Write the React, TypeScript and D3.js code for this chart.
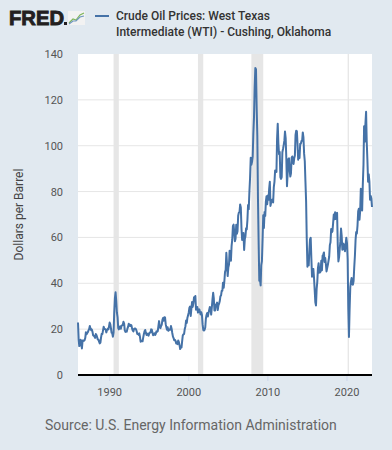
import * as d3 from "d3";

// Monthly WTI spot price averages (dollars per barrel), starting Jan 1986
const wti1980s = [
  22.93, 15.46, 12.61, 12.84, 15.38, 13.43, 11.59, 15.1, 14.87, 14.9, 15.22, 16.11,
  18.65, 17.75, 18.3, 18.68, 19.44, 20.07, 21.34, 20.31, 19.53, 19.86, 18.85, 17.28,
  17.13, 16.8, 16.2, 17.86, 17.42, 16.53, 15.5, 15.52, 14.54, 13.77, 14.14, 16.38,
  18.02, 17.94, 19.48, 21.07, 20.12, 20.05, 19.78, 18.58, 19.59, 20.1, 19.86, 21.1,
];
const wti1990s = [
  22.86, 22.11, 20.39, 18.43, 18.2, 16.7, 18.45, 27.31, 33.51, 36.04, 32.33, 27.28,
  25.23, 20.48, 19.9, 20.83, 21.23, 20.19, 21.4, 21.69, 21.89, 23.23, 22.46, 19.5,
  18.79, 19.01, 18.92, 20.23, 20.98, 22.39, 21.78, 21.34, 21.88, 21.69, 20.34, 19.41,
  19.03, 20.09, 20.32, 20.25, 19.95, 19.09, 17.89, 18.01, 17.5, 18.15, 16.61, 14.52,
  15.03, 14.78, 14.68, 16.42, 17.89, 19.06, 19.66, 18.38, 17.45, 17.72, 18.07, 17.16,
  18.04, 18.57, 18.54, 19.9, 19.74, 18.45, 17.33, 18.02, 18.23, 17.43, 17.99, 19.03,
  18.85, 19.09, 21.33, 23.5, 21.17, 20.42, 21.3, 21.9, 23.97, 24.88, 23.71, 25.23,
  25.13, 22.18, 20.97, 19.7, 20.82, 19.26, 19.66, 19.95, 19.8, 21.33, 20.19, 18.33,
  16.72, 16.06, 15.12, 15.35, 14.91, 13.72, 14.17, 13.47, 15.03, 14.46, 13.0, 11.35,
  12.52, 12.01, 14.68, 17.31, 17.72, 17.92, 20.1, 21.28, 23.8, 22.69, 25.0, 26.1,
];
const wti2000s = [
  27.26, 29.37, 29.84, 25.72, 28.79, 31.82, 29.7, 31.26, 33.88, 33.11, 34.42, 28.44,
  29.59, 29.61, 27.24, 27.49, 28.63, 27.6, 26.43, 27.37, 26.2, 22.17, 19.64, 19.39,
  19.72, 20.72, 24.53, 26.18, 27.04, 25.52, 26.97, 28.39, 29.66, 28.84, 26.35, 29.46,
  32.95, 35.83, 33.51, 28.17, 28.11, 30.66, 30.76, 31.57, 28.31, 30.34, 31.11, 32.13,
  34.31, 34.69, 36.74, 36.75, 40.28, 38.03, 40.78, 44.9, 45.94, 53.28, 48.47, 43.15,
  46.84, 48.15, 54.19, 52.98, 49.83, 56.35, 59.0, 64.99, 65.59, 62.26, 58.32, 59.41,
  65.49, 61.63, 62.69, 69.44, 70.84, 70.95, 74.41, 73.04, 63.8, 58.89, 59.08, 61.96,
  54.51, 59.28, 60.44, 63.98, 63.46, 67.49, 74.12, 72.36, 79.92, 85.8, 94.77, 91.69,
  92.97, 95.39, 105.45, 112.58, 125.4, 133.88, 133.37, 116.67, 104.11, 76.61, 57.31, 41.12,
  41.71, 39.09, 47.94, 49.65, 59.03, 69.64, 64.15, 71.05, 69.41, 75.72, 77.99, 74.47,
];
const wti2010s = [
  78.33, 76.39, 81.2, 84.29, 73.74, 75.34, 76.32, 76.6, 75.24, 81.89, 84.25, 89.15,
  89.17, 88.58, 102.86, 109.53, 100.9, 96.26, 97.3, 86.33, 85.52, 86.32, 97.16, 98.56,
  100.27, 102.2, 106.16, 103.32, 94.66, 82.3, 87.9, 94.13, 94.51, 89.49, 86.53, 87.86,
  94.76, 95.31, 92.94, 92.02, 94.51, 95.77, 104.67, 106.57, 106.29, 100.54, 93.86, 97.63,
  94.62, 100.82, 100.8, 102.07, 102.18, 105.79, 103.59, 96.54, 93.21, 84.4, 75.79, 59.29,
  47.22, 50.58, 47.82, 54.45, 59.27, 59.82, 50.9, 42.87, 45.48, 46.22, 42.44, 37.19,
  31.68, 30.32, 37.55, 40.75, 46.71, 48.76, 44.65, 44.72, 45.18, 49.78, 45.66, 51.97,
  52.5, 53.47, 49.33, 51.06, 48.48, 45.18, 46.63, 48.04, 49.82, 51.58, 56.64, 57.88,
  63.7, 62.23, 62.73, 66.25, 69.98, 67.87, 70.98, 68.06, 70.23, 70.75, 56.96, 49.52,
  51.38, 54.95, 58.15, 63.86, 60.83, 54.66, 57.35, 54.81, 56.95, 53.96, 57.03, 59.88,
];
const wti2020s = [
  57.52, 50.54, 29.21, 16.55, 28.56, 38.31, 40.71, 42.34, 39.63, 39.4, 40.94, 47.02,
  52.0, 59.04, 62.33, 61.72, 65.17, 71.38, 72.49, 67.73, 71.54, 81.22, 78.65, 71.71,
  83.22, 91.64, 108.5, 101.78, 109.55, 114.84, 101.62, 93.67, 84.26, 87.55, 84.37, 76.44,
  78.12, 76.83, 73.28,
];

// NBER recessions inside the window
const recessions: [string, string][] = [
  ["1990-07-01", "1991-03-01"],
  ["2001-03-01", "2001-11-01"],
  ["2007-12-01", "2009-06-01"],
  ["2020-02-01", "2020-04-01"],
];

const yTicks = [0, 20, 40, 60, 80, 100, 120, 140];
const xTickYears = [1990, 2000, 2010, 2020];

const series = [...wti1980s, ...wti1990s, ...wti2000s, ...wti2010s, ...wti2020s].map(
  (v, i) => ({ date: new Date(1986, i, 1), value: v })
);

const W = 392;
const H = 450;
const margin = { top: 54, right: 20, bottom: 75, left: 78 };
const FONT = "Roboto, 'Noto Sans', sans-serif";

export default function App() {
  const innerW = W - margin.left - margin.right;
  const innerH = H - margin.top - margin.bottom;

  const x = d3
    .scaleTime()
    .domain([new Date(1986, 0, 1), series[series.length - 1].date])
    .range([0, innerW]);
  const y = d3.scaleLinear().domain([0, 140]).range([innerH, 0]);

  const line = d3
    .line<{ date: Date; value: number }>()
    .x(d => x(d.date))
    .y(d => y(d.value));

  return (
    <svg
      width={W}
      height={H}
      style={{ display: "block", position: "absolute", left: 0, top: 0 }}
      fontFamily={FONT}
    >
      <rect width={W} height={H} fill="#e1e9f0" />

      {/* header: logo + legend */}
      <text
        x={9}
        y={25}
        fontSize={20}
        fontWeight={900}
        fill="#231f20"
        stroke="#231f20"
        strokeWidth={0.9}
        fontFamily="'Liberation Sans', Arial, sans-serif"
        textLength={55}
        lengthAdjust="spacingAndGlyphs"
      >
        FRED
      </text>
      <rect x={64} y={22} width={3} height={3} fill="#231f20" />
      <g transform="translate(68,11)">
        <rect width={17} height={14} fill="#f2f2f2" />
        <polyline points="1,12 5,8 8,9 12,4 16,2" fill="none" stroke="#7fb65b" strokeWidth={1.2} />
        <polyline points="1,13 5,10 8,10 12,6 16,5" fill="none" stroke="#6f97c2" strokeWidth={1.2} />
      </g>
      <line x1={95} x2={109} y1={16} y2={16} stroke="#4572a7" strokeWidth={2} />
      <text x={116} y={20} fontSize={12} fontWeight={500} fill="#333">
        Crude Oil Prices: West Texas
      </text>
      <text x={116} y={36} fontSize={12} fontWeight={500} fill="#333">
        Intermediate (WTI) - Cushing, Oklahoma
      </text>

      <g transform={`translate(${margin.left},${margin.top})`}>
        <rect width={innerW} height={innerH} fill="#ffffff" />

        {recessions.map(([a, b]) => (
          <rect
            key={a}
            x={x(new Date(a))}
            width={Math.max(1, x(new Date(b)) - x(new Date(a)))}
            y={0}
            height={innerH}
            fill="#e6e6e6"
          />
        ))}

        {yTicks.map(t => (
          <g key={t}>
            {t > 0 && t < 140 && (
              <line x1={0} x2={innerW} y1={y(t)} y2={y(t)} stroke="#e6e6e6" strokeWidth={1} />
            )}
            <text
              x={-15}
              y={y(t) + 4}
              textAnchor="end"
              fontSize={11}
              fill="#555"
            >
              {t}
            </text>
          </g>
        ))}

        <path
          d={line(series) ?? ""}
          fill="none"
          stroke="#4572a7"
          strokeWidth={2}
          strokeLinejoin="round"
        />

        <line x1={0} x2={innerW} y1={innerH} y2={innerH} stroke="#000" strokeWidth={2} />

        {xTickYears.map(yr => {
          const px = x(new Date(yr, 0, 1));
          return (
            <g key={yr}>
              <line x1={px} x2={px} y1={innerH + 1} y2={innerH + 6} stroke="#ccd6eb" strokeWidth={1} />
              <text x={px} y={innerH + 21} textAnchor="middle" fontSize={11} fill="#555">
                {yr}
              </text>
            </g>
          );
        })}

        <text
          transform={`translate(-55,${innerH / 2}) rotate(-90)`}
          textAnchor="middle"
          fontSize={12}
          fill="#444"
        >
          Dollars per Barrel
        </text>
      </g>

      <text x={45} y={430} fontSize={14} fill="#666">
        Source: U.S. Energy Information Administration
      </text>
    </svg>
  );
}
